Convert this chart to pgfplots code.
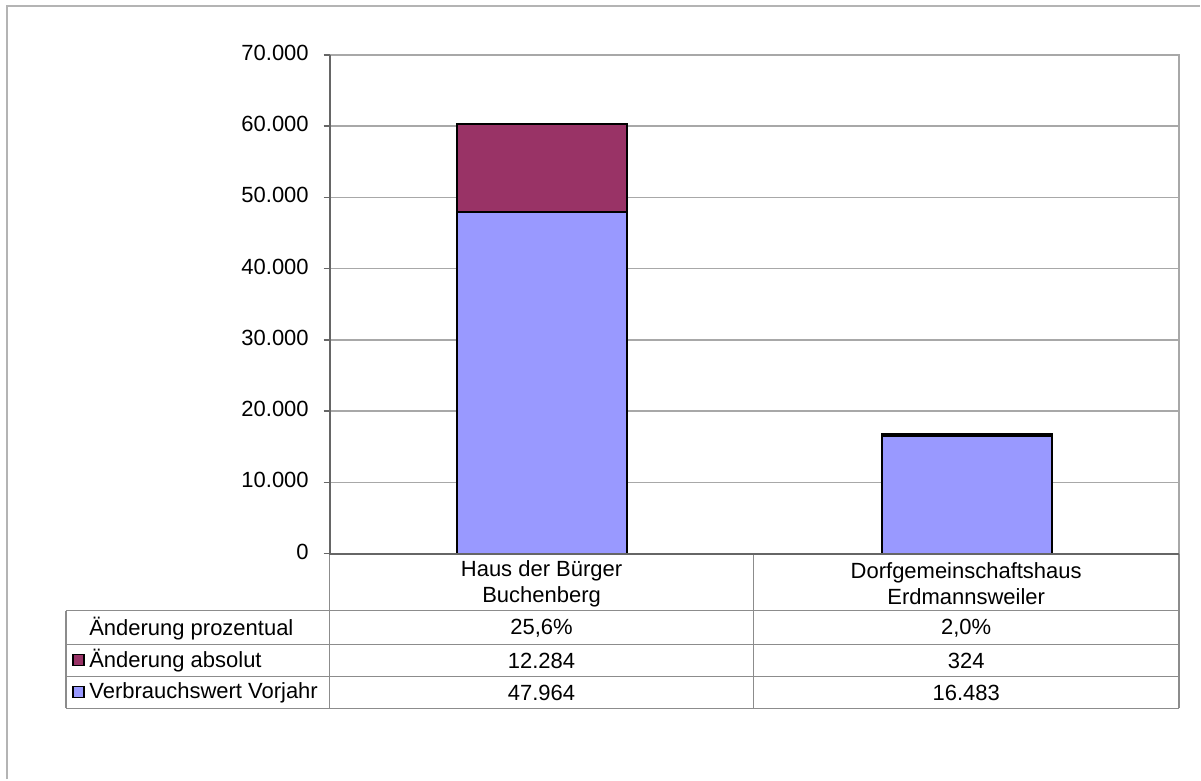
\documentclass[border=0pt]{standalone}
\usepackage{fontspec}
\setmainfont{Liberation Sans}
\usepackage{pgfplots}
\pgfplotsset{compat=1.18}
\definecolor{vblue}{HTML}{9999FF}
\definecolor{vpurple}{HTML}{993366}
\definecolor{gridgray}{HTML}{A8A8A8}
\definecolor{axisgray}{HTML}{666666}
\definecolor{tablegray}{HTML}{8C8C8C}
\definecolor{framegray}{HTML}{B4B4B4}
\begin{document}
\begin{tikzpicture}[font=\fontsize{11}{13.2}\selectfont]
\begin{scope}[x=0.5pt,y=-0.5pt]
\path[use as bounding box] (0,0) rectangle (1201,780);
\end{scope}
\begin{axis}[
  at={(165pt,-277pt)}, anchor=south west,
  scale only axis, width=425pt, height=249.5pt,
  ybar stacked, bar width=85pt,
  xmin=-0.5, xmax=1.5, ymin=0, ymax=70000,
  ytick={0,10000,...,70000}, xtick=\empty,
  scaled y ticks=false,
  ymajorgrids, grid style={gridgray, line width=0.7pt},
  axis line style={draw=none},
  ytick pos=left, tick align=outside, major tick length=3pt,
  ytick style={axisgray, line width=0.7pt},
  yticklabel style={font=\fontsize{11}{13.2}\selectfont, xshift=-4pt, yshift=1pt},
  /pgf/number format/.cd, 1000 sep={.}, assume math mode=true
]
\addplot[fill=vblue, draw=black, line width=1pt] coordinates {(0,47964) (1,16483)};
\addplot[fill=vpurple, draw=black, line width=1pt] coordinates {(0,12284) (1,324)};
\end{axis}
\begin{scope}[x=0.5pt,y=-0.5pt]
% outer frame
\draw[framegray, line width=1pt] (7,780) -- (7,6) -- (1201,6);
% plot borders
\draw[gridgray, line width=0.8pt] (330,55) -- (1180,55) -- (1180,554);
% table
\draw[tablegray, line width=0.6pt] (66,611) -- (1180,611);
\draw[tablegray, line width=0.6pt] (66,645) -- (1180,645);
\draw[tablegray, line width=0.6pt] (66,677) -- (1180,677);
\draw[tablegray, line width=0.6pt] (66,709) -- (1180,709);
\draw[tablegray, line width=0.6pt] (66,611) -- (66,709);
\draw[tablegray, line width=0.6pt] (330,554) -- (330,709);
\draw[tablegray, line width=0.6pt] (754,554) -- (754,709);
\draw[tablegray, line width=0.6pt] (1180,554) -- (1180,709);
% axis lines
\draw[axisgray, line width=1pt] (330,55) -- (330,554) -- (1180,554);
% category labels
\node[align=center] at (542,584) {Haus der Bürger\\Buchenberg};
\node[align=center] at (967,584) {Dorfgemeinschaftshaus\\Erdmannsweiler};
% row labels
\node[anchor=west, inner sep=0pt] at (89,629) {Änderung prozentual};
\node[anchor=west, inner sep=0pt] at (89,661) {Änderung absolut};
\node[anchor=west, inner sep=0pt] at (89,693) {Verbrauchswert Vorjahr};
\draw[black, fill=vpurple, line width=0.8pt] (73,655) rectangle (84,666);
\draw[black, fill=vblue, line width=0.8pt] (73,687) rectangle (84,698);
% values
\node at (542,629) {25,6\%};
\node at (967,629) {2,0\%};
\node at (542,661) {12.284};
\node at (967,661) {324};
\node at (542,693) {47.964};
\node at (967,693) {16.483};
\end{scope}
\end{tikzpicture}
\end{document}
